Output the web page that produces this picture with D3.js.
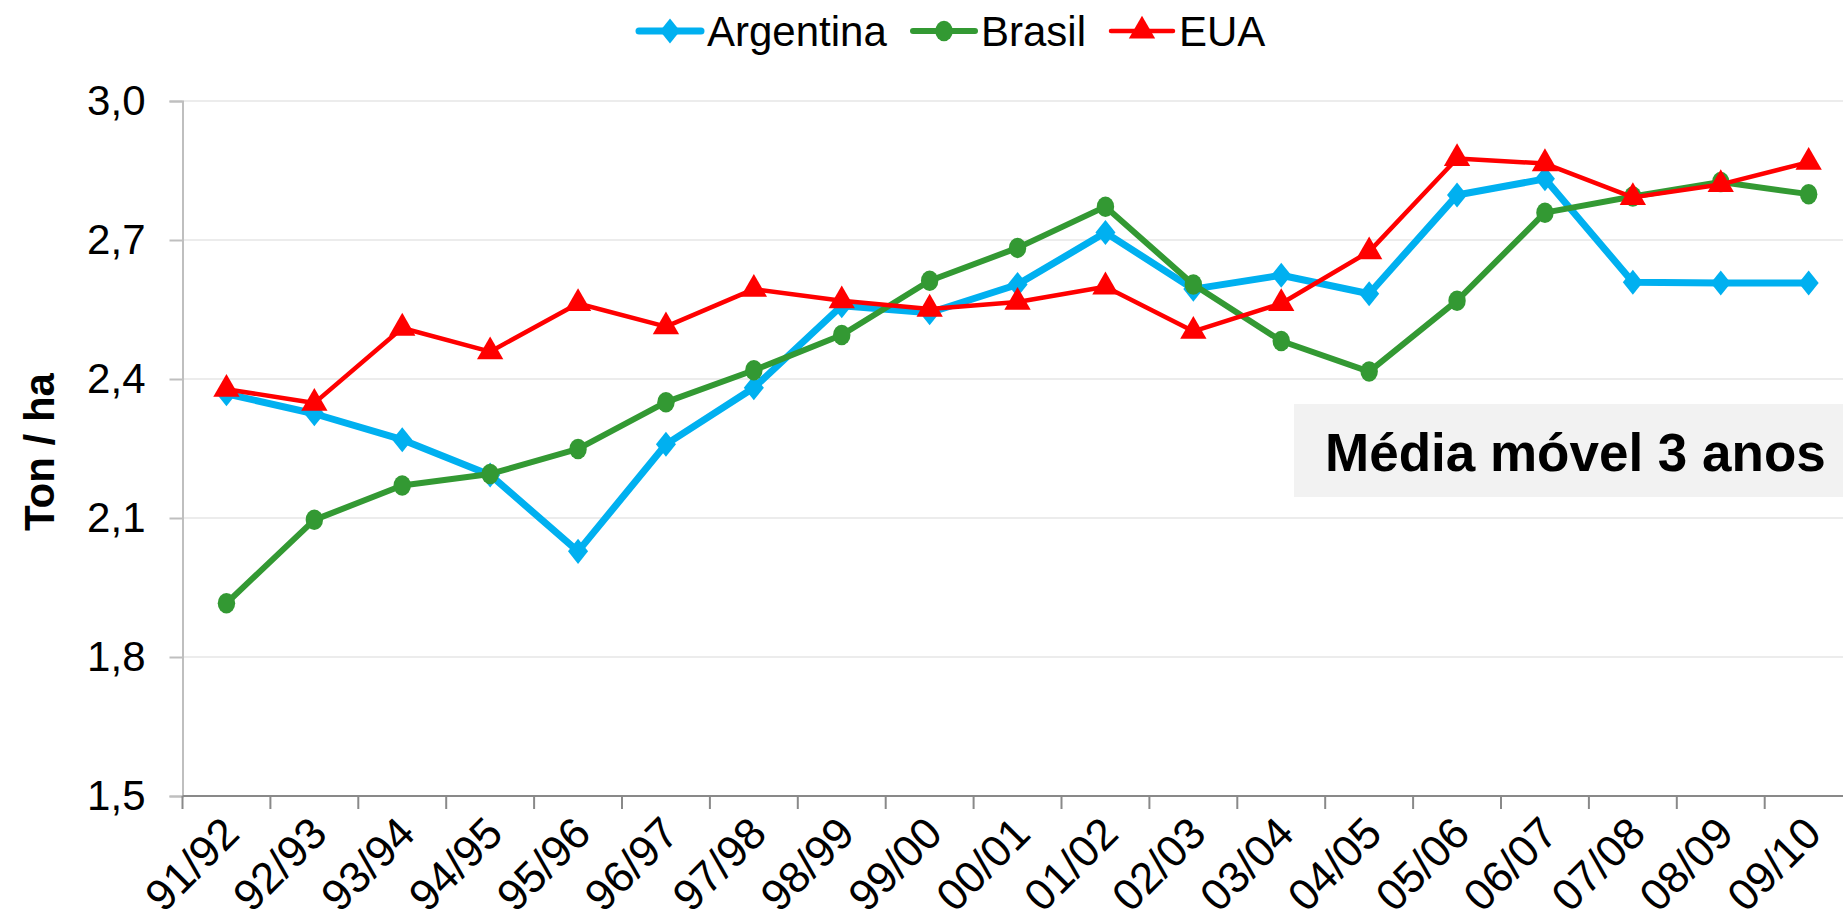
<!DOCTYPE html>
<html>
<head>
<meta charset="utf-8">
<script src="https://cdn.jsdelivr.net/npm/d3@7"></script>
<style>
  body { margin: 0; background: #fff; }
  svg { display: block; overflow: hidden; font-family: "Liberation Sans", Arial, sans-serif; }
</style>
</head>
<body>
<svg id="chart"></svg>
<script>
// safras
const seasons = ['91/92', '92/93', '93/94', '94/95', '95/96', '96/97', '97/98', '98/99', '99/00', '00/01',
    '01/02', '02/03', '03/04', '04/05', '05/06', '06/07', '07/08', '08/09', '09/10'];

// produtividade média móvel 3 anos (ton/ha)
const argentina = [2.368, 2.325, 2.269, 2.193, 2.028, 2.259, 2.381, 2.558, 2.543, 2.604,
    2.716, 2.594, 2.624, 2.584, 2.797, 2.832, 2.609, 2.607, 2.607];
const brasil = [1.916, 2.096, 2.170, 2.195, 2.249, 2.350, 2.419, 2.495, 2.612, 2.683,
    2.772, 2.604, 2.482, 2.416, 2.569, 2.759, 2.794, 2.825, 2.799];
const eua = [2.378, 2.348, 2.510, 2.459, 2.563, 2.513, 2.594, 2.569, 2.551, 2.566,
    2.599, 2.503, 2.563, 2.675, 2.876, 2.865, 2.792, 2.820, 2.868];

const yTicks = [1.5, 1.8, 2.1, 2.4, 2.7, 3.0];
const seriesNames = ['Argentina', 'Brasil', 'EUA'];

const width = 1843, height = 924;
const mLeft = 182.5, mTop = 101, mBottom = 796;
const band = 87.9;

const svg = d3.select('#chart').attr('width', width).attr('height', height);

const x = d3.scaleBand().domain(seasons).range([mLeft, mLeft + band * seasons.length]);
const y = d3.scaleLinear().domain([1.5, 3.0]).range([mBottom, mTop]);

const fmt = v => d3.format('.1f')(v).replace('.', ',');

// grid
svg.append('g').selectAll('line').data(yTicks.slice(1)).join('line')
    .attr('x1', mLeft).attr('x2', x.range()[1])
    .attr('y1', d => y(d)).attr('y2', d => y(d))
    .attr('stroke', '#ececec').attr('stroke-width', 2);

// y axis
const yAxis = svg.append('g').attr('transform', `translate(${mLeft},0)`)
    .call(d3.axisLeft(y).tickValues(yTicks).tickFormat(fmt).tickSize(13).tickPadding(24));
yAxis.select('.domain').attr('stroke', '#bfbfbf').attr('stroke-width', 2);
yAxis.selectAll('.tick line').attr('stroke', '#bfbfbf').attr('stroke-width', 2);
yAxis.selectAll('.tick text').attr('font-size', 42).attr('fill', '#000')
    .attr('font-family', '"Liberation Sans", Arial, sans-serif');

// x axis
const xg = svg.append('g');
xg.append('line').attr('x1', mLeft).attr('x2', x.range()[1])
    .attr('y1', mBottom).attr('y2', mBottom).attr('stroke', '#898989').attr('stroke-width', 2);
const edges = seasons.map(s => x(s)).concat([x.range()[1]]);
xg.selectAll('.xtick').data(edges).join('line').attr('class', 'xtick')
    .attr('x1', d => d).attr('x2', d => d).attr('y1', mBottom).attr('y2', mBottom + 13)
    .attr('stroke', '#898989').attr('stroke-width', 2);
xg.selectAll('.xlabel').data(seasons).join('text').attr('class', 'xlabel')
    .attr('transform', d => `translate(${x(d) + x.bandwidth() / 2 + 15},${mBottom + 40}) rotate(-45)`)
    .attr('text-anchor', 'end').attr('font-size', 44).attr('fill', '#000')
    .text(d => d);

// y title
svg.append('text')
    .attr('transform', `translate(54,452) rotate(-90)`)
    .attr('text-anchor', 'middle').attr('font-size', 42).attr('font-weight', 'bold')
    .text('Ton / ha');

// series
const series = [
    { name: 'Argentina', values: argentina, color: '#00b0f0', width: 7, symbol: d3.symbolDiamond2, size: 400, sx: 0.8 },
    { name: 'Brasil', values: brasil, color: '#339933', width: 6, symbol: d3.symbolCircle, size: 330, sx: 0.85 },
    { name: 'EUA', values: eua, color: '#ff0000', width: 4.5, symbol: d3.symbolTriangle, size: 300, sx: 1 }
];

const line = d3.line().x((d, i) => x(seasons[i]) + x.bandwidth() / 2).y(d => y(d));

series.forEach(s => {
    const g = svg.append('g');
    g.append('path').datum(s.values).attr('d', line)
        .attr('fill', 'none').attr('stroke', s.color).attr('stroke-width', s.width)
        .attr('stroke-linejoin', 'round');
    g.selectAll('path.mk').data(s.values).join('path').attr('class', 'mk')
        .attr('d', d3.symbol(s.symbol, s.size))
        .attr('transform', (d, i) => `translate(${x(seasons[i]) + x.bandwidth() / 2},${y(d)}) scale(${s.sx},1)`)
        .attr('fill', s.color);
});

// legend
const legendX = [639, 913, 1111];
const lg = svg.append('g');
series.forEach((s, i) => {
    const g = lg.append('g').attr('transform', `translate(${legendX[i]},31)`);
    g.append('line').attr('x1', 0).attr('x2', 62).attr('y1', 0).attr('y2', 0)
        .attr('stroke', s.color).attr('stroke-width', s.width).attr('stroke-linecap', 'round');
    g.append('path').attr('d', d3.symbol(s.symbol, s.size))
        .attr('transform', `translate(31,0) scale(${s.sx},1)`).attr('fill', s.color);
    g.append('text').attr('x', 68).attr('y', 15).attr('font-size', 42).attr('fill', '#000')
        .text(s.name);
});

// caixa de anotação
svg.append('rect').attr('x', 1294).attr('y', 404).attr('width', width - 1294).attr('height', 93)
    .attr('fill', '#f2f2f2');
svg.append('text').attr('x', 1325).attr('y', 471).attr('font-size', 53).attr('font-weight', 'bold')
    .text('Média móvel 3 anos');
</script>
</body>
</html>
